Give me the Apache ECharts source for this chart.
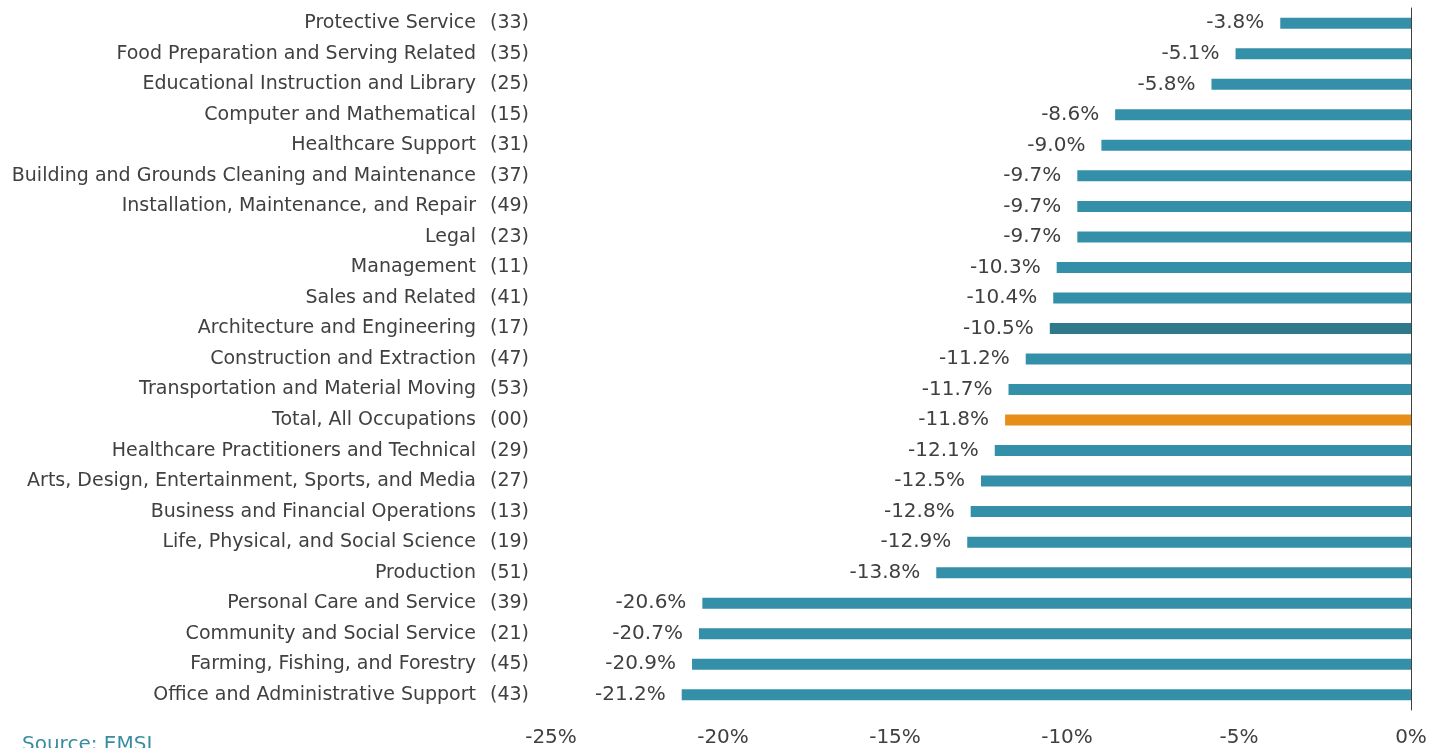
<!DOCTYPE html>
<html>
<head>
<meta charset="utf-8">
<script src="https://cdn.jsdelivr.net/npm/echarts@6/dist/echarts.min.js"></script>
<style>
  html, body { margin: 0; padding: 0; background: #fff; }
  #chart { width: 1442px; height: 748px; }
</style>
</head>
<body>
<div id="chart"></div>
<script>
  // occupation groups, top to bottom
  let names = [
    'Protective Service', 'Food Preparation and Serving Related', 'Educational Instruction and Library',
    'Computer and Mathematical', 'Healthcare Support', 'Building and Grounds Cleaning and Maintenance',
    'Installation, Maintenance, and Repair', 'Legal', 'Management', 'Sales and Related',
    'Architecture and Engineering', 'Construction and Extraction', 'Transportation and Material Moving',
    'Total, All Occupations', 'Healthcare Practitioners and Technical',
    'Arts, Design, Entertainment, Sports, and Media', 'Business and Financial Operations',
    'Life, Physical, and Social Science', 'Production', 'Personal Care and Service',
    'Community and Social Service', 'Farming, Fishing, and Forestry', 'Office and Administrative Support'
  ]
  let codes = ['33', '35', '25', '15', '31', '37', '49', '23', '11', '41', '17', '47', '53', '00',
    '29', '27', '13', '19', '51', '39', '21', '45', '43']
  let changes = [-3.8, -5.1, -5.8, -8.6, -9.0, -9.7, -9.7, -9.7, -10.3, -10.4, -10.5, -11.2, -11.7,
    -11.8, -12.1, -12.5, -12.8, -12.9, -13.8, -20.6, -20.7, -20.9, -21.2]
  let xTicks = [-25, -20, -15, -10, -5, 0]

  let textColor = '#404040'
  let fontFamily = 'DejaVu Sans'
  let barColor = function (i) {
    if (names[i] === 'Total, All Occupations') return '#E68E1A'
    if (names[i] === 'Architecture and Engineering') return '#2E7A8C'
    return '#348FA8'
  }

  let chart = echarts.init(document.getElementById('chart'))
  chart.setOption({
    animation: false,
    grid: { left: 551, right: 31, top: 8, bottom: 36 },
    xAxis: {
      type: 'value',
      min: xTicks[0],
      max: xTicks[xTicks.length - 1],
      interval: 5,
      axisLine: { show: false },
      axisTick: { show: false },
      splitLine: { show: false },
      axisLabel: {
        margin: 18,
        color: textColor,
        fontFamily: fontFamily,
        fontSize: 20,
        formatter: function (v) { return v + '%' }
      }
    },
    yAxis: [
      {
        type: 'category',
        inverse: true,
        data: names,
        axisLine: { show: false, onZero: false },
        axisTick: { show: false },
        axisLabel: {
          margin: 22,
          formatter: function (v, i) {
            return '{n|' + v + '}{c|(' + codes[i] + ')}'
          },
          rich: {
            n: { color: textColor, fontFamily: fontFamily, fontSize: 19 },
            c: { color: textColor, fontFamily: fontFamily, fontSize: 19, width: 53, align: 'right' }
          }
        }
      },
      {
        type: 'category',
        inverse: true,
        position: 'right',
        data: names,
        axisLine: { show: true, onZero: false, lineStyle: { color: '#404040', width: 1 } },
        axisTick: { show: false },
        axisLabel: { show: false }
      }
    ],
    series: [
      {
        type: 'bar',
        barWidth: 11,
        data: changes.map(function (v, i) {
          return { value: v, itemStyle: { color: barColor(i) } }
        }),
        label: {
          show: true,
          position: 'left',
          distance: 16,
          color: textColor,
          fontFamily: fontFamily,
          fontSize: 20,
          formatter: function (p) { return p.value.toFixed(1) + '%' }
        }
      }
    ],
    graphic: [
      {
        type: 'text',
        left: 22,
        top: 735,
        style: { text: 'Source: EMSI', fill: '#3A8DA0', fontFamily: fontFamily, fontSize: 20 }
      }
    ]
  })
</script>
</body>
</html>
